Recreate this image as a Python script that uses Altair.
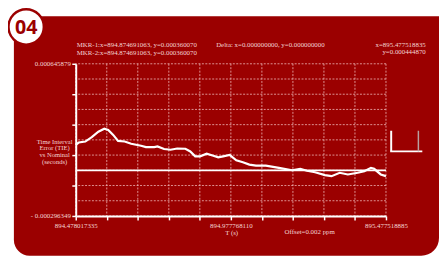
import altair as alt
import pandas as pd

# ---------------- data ----------------
t_values = [894.47802, 894.4875, 894.5088, 894.5297, 894.5510, 894.5700, 894.5827,
            894.5986, 894.6144, 894.6357, 894.6566, 894.6884, 894.7042, 894.7309,
            894.7414, 894.7626, 894.7836, 894.8048, 894.8312, 894.8470, 894.8629,
            894.8787, 894.9000, 894.9213, 894.9371, 894.9530, 894.9739, 894.9952,
            895.0165, 895.0374, 895.0587, 895.0904, 895.1326, 895.1751, 895.2014,
            895.2227, 895.2490, 895.2808, 895.3020, 895.3284, 895.3547, 895.3864,
            895.4077, 895.4290, 895.4394, 895.4607, 895.4775]
tie_values = [0.0001442, 0.0001583, 0.0001644, 0.0001913, 0.0002256, 0.0002439, 0.0002360,
              0.0002054, 0.0001687, 0.0001644, 0.0001503, 0.0001381, 0.0001301, 0.0001301,
              0.0001338, 0.0001179, 0.0001136, 0.0001216, 0.0001197, 0.0001032, 0.0000726,
              0.0000726, 0.0000891, 0.0000769, 0.0000665, 0.0000726, 0.0000812, 0.0000481,
              0.0000359, 0.0000218, 0.0000157, 0.0000157, 0.0000016, -0.0000131, -0.0000045,
              -0.0000167, -0.0000253, -0.0000436, -0.0000498, -0.0000290, -0.0000393, -0.0000290,
              -0.0000192, 0.0000016, -0.0000045, -0.0000393, -0.0000498]

x_grid = [894.478017335, 894.577967490, 894.677917645, 894.777867800, 894.877817955,
          894.977768110, 895.077718265, 895.177668420, 895.277618575, 895.377568730,
          895.477518885]
y_grid = [0.000645879, 0.0005516562, 0.0004574334, 0.0003632106, 0.0002689878,
          0.000174765, 0.0000805422, -0.0000136806, -0.0001079034, -0.0002021262,
          -0.000296349]
y_tick_values = [0.000645879, 0.0004574334, 0.0002689878, 0.0000805422,
                 -0.0001079034, -0.000296349]
ref_level = [-0.0000136806]

x_labels = ["894.478017335", "894.977768110", "895.477518885"]
y_labels = ["0.000645879", "- 0.000296349"]

marker_lines = ["MKR-1:x=894.874691063, y=0.000360070",
                "MKR-2:x=894.874691063, y=0.000360070"]
delta_line = ["Delta: x=0.000000000, y=0.000000000"]
cursor_lines = ["x=895.477518835", "y=0.000444870"]
y_title_lines = ["Time Interval", "Error (TIE)", "vs Nominal", "(seconds)"]
x_title = ["T (s)"]
offset_text = ["Offset=0.002 ppm"]
badge = ["04"]

# ---------------- style ----------------
RED = "#9b0000"
TXT = "#f3d3d3"
GRID = "#f0b8b8"
SERIF = "Liberation Serif"

x_dom = [x_grid[0], x_grid[-1]]
y_dom = [y_grid[-1], y_grid[0]]

x_label_expr = (
    f"abs(datum.value - {x_grid[0]}) < 0.01 ? '{x_labels[0]}' : "
    f"abs(datum.value - {x_grid[5]}) < 0.01 ? '{x_labels[1]}' : "
    f"abs(datum.value - {x_grid[10]}) < 0.01 ? '{x_labels[2]}' : ''"
)
y_label_expr = (
    f"datum.value > 0.0006 ? '{y_labels[0]}' : "
    f"datum.value < -0.00029 ? '{y_labels[1]}' : ''"
)

x_axis = alt.Axis(values=x_grid, labelExpr=x_label_expr, title=None, grid=False,
                  domainColor="white", domainWidth=2, tickColor="white", tickWidth=1.5,
                  tickSize=4, labelPadding=2, labelFont=SERIF, labelFontSize=7,
                  labelColor=TXT, labelFlush=False, labelOverlap=False, zindex=2)
y_axis = alt.Axis(values=y_tick_values, labelExpr=y_label_expr, title=None, grid=False,
                  domainColor="white", domainWidth=2, tickColor="white", tickWidth=1.5,
                  tickSize=4, labelPadding=1.5, labelFont=SERIF, labelFontSize=7,
                  labelColor=TXT, labelOverlap=False, labelBaseline="middle", zindex=2)

xs = alt.Scale(domain=x_dom, nice=False, zero=False)
ys = alt.Scale(domain=y_dom, nice=False, zero=False)

one = pd.DataFrame({"k": [0]})

panel = alt.Chart(one).mark_rect(
    color=RED, cornerRadiusBottomLeft=16, cornerRadiusBottomRight=18, cornerRadiusTopLeft=14
).encode(x=alt.value(-63), x2=alt.value(370), y=alt.value(-48.5), y2=alt.value(195.5))

vgrid = alt.Chart(pd.DataFrame({"t": x_grid})).mark_rule(
    color=GRID, strokeWidth=1, strokeDash=[2, 1.5], opacity=0.8
).encode(x=alt.X("t:Q", scale=xs, axis=x_axis))

hgrid = alt.Chart(pd.DataFrame({"v": y_grid})).mark_rule(
    color=GRID, strokeWidth=1, strokeDash=[2, 1.5], opacity=0.8
).encode(y=alt.Y("v:Q", scale=ys, axis=y_axis))

ref = alt.Chart(pd.DataFrame({"v": ref_level})).mark_rule(
    color="white", strokeWidth=1.8
).encode(y=alt.Y("v:Q", scale=ys, axis=y_axis))

line = alt.Chart(pd.DataFrame({"t": t_values, "v": tie_values})).mark_line(
    color="white", strokeWidth=2.2
).encode(x=alt.X("t:Q", scale=xs, axis=x_axis), y=alt.Y("v:Q", scale=ys, axis=y_axis))


def text_layer(lines, x, y, align="left", size=7, color=TXT, font=SERIF, weight="normal", lh=7.3):
    return alt.Chart(pd.DataFrame({"s": ["\n".join(lines)]})).mark_text(
        align=align, baseline="middle", fontSize=size, font=font, color=color,
        fontWeight=weight, lineBreak="\n", lineHeight=lh
    ).encode(text="s:N", x=alt.value(x), y=alt.value(y))


t_mkr = text_layer(marker_lines, 1, -18.6)
t_delta = text_layer(delta_line, 143, -19.2)
t_cursor = text_layer(cursor_lines, 356.5, -18.8, align="right")
t_ytitle = text_layer(y_title_lines, -21.5, 79.2, align="center", size=6.7, lh=7.1)
t_xtitle = text_layer(x_title, 158.8, 172, align="center")
t_offset = text_layer(offset_text, 238.3, 171, align="center")

# legend-like glyph on the right
glyph_v1 = alt.Chart(one).mark_rule(color="white", strokeWidth=2).encode(
    x=alt.value(321.3), y=alt.value(68.2), y2=alt.value(89.2))
glyph_h = alt.Chart(one).mark_rule(color="white", strokeWidth=2).encode(
    x=alt.value(320.3), x2=alt.value(353), y=alt.value(89.2))
glyph_v2 = alt.Chart(one).mark_rule(color="#b8a0a0", strokeWidth=1.5).encode(
    x=alt.value(349), y=alt.value(68.2), y2=alt.value(89.2))

ring = alt.Chart(one).mark_point(
    shape="circle", filled=True, fill="white", stroke=RED, strokeWidth=2.5,
    size=36 * 36, opacity=1
).encode(x=alt.value(-50.5), y=alt.value(-37.5))
badge_text = alt.Chart(pd.DataFrame({"s": badge})).mark_text(
    align="center", baseline="middle", fontSize=20, font="Open Sans", fontWeight="bold",
    color=RED
).encode(text="s:N", x=alt.value(-50.5), y=alt.value(-36.5))

chart = alt.layer(
    panel, vgrid, hgrid, ref, line, t_mkr, t_delta, t_cursor, t_ytitle, t_xtitle,
    t_offset, glyph_v1, glyph_h, glyph_v2, ring, badge_text
).properties(
    width=316, height=155,
    padding={"left": 69, "top": 54.5, "right": 54, "bottom": 40.5},
    autosize=alt.AutoSizeParams(type="none"),
    background="white",
).configure_view(stroke=None)

chart.save("out.html", embed_options={"renderer": "svg", "actions": False})
